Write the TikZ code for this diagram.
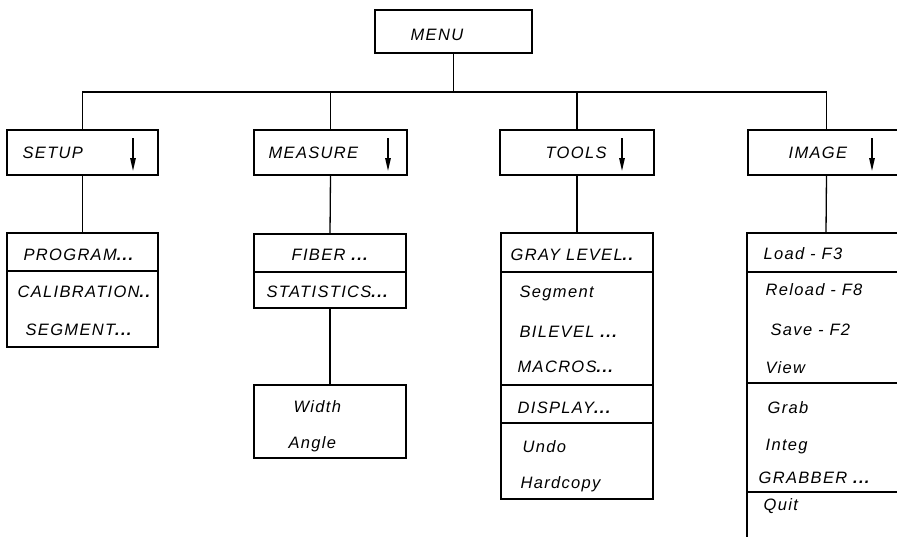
\documentclass[tikz,border=0pt]{standalone}
\usepackage{fontspec}
\newfontfamily\lab{Liberation Sans}[LetterSpace=8]
\usetikzlibrary{arrows.meta}
\newcommand{\dts}[1]{{\bfseries #1}}
\tikzset{
  frame/.style n args={2}{draw, rectangle, minimum width=#1, minimum height=#2, inner sep=0pt, outer sep=0pt, anchor=north west},
  txt/.style={anchor=base west, inner sep=0pt, font=\lab\itshape\fontsize{16.5}{19}\selectfont},
  darrow/.style={-{Triangle[length=13pt,width=5.5pt]}, line width=1.4pt},
}
\begin{document}
\begin{tikzpicture}[x=1pt,y=-1pt,line width=1.3pt]
\useasboundingbox (0,0) rectangle (897,536);
\clip (0,0) rectangle (897,536);
% top
\node[frame={157pt}{43pt}] (menu) at (375,10) {};
\node[txt] (tmenu) at (410,40) {MENU};
% second level
\node[frame={151pt}{45pt}] (setup) at (7,130) {};
\node[frame={153pt}{45pt}] (measure) at (254,130) {};
\node[frame={154pt}{45pt}] (tools) at (500,130) {};
\node[frame={157pt}{45pt}] (image) at (748,130) {};
\node[txt] (tsetup) at (22,158) {SETUP};
\node[txt] (tmeasure) at (268,158) {MEASURE};
\node[txt] (ttools) at (545,158) {TOOLS};
\node[txt] (timage) at (788,158) {IMAGE};
\coordinate (a1s) at (133,138); \coordinate (a1e) at (133,171);
\coordinate (a2s) at (388,138); \coordinate (a2e) at (388,171);
\coordinate (a3s) at (622,138); \coordinate (a3e) at (622,171);
\coordinate (a4s) at (872,138); \coordinate (a4e) at (872,171);
\draw[darrow] (a1s) -- (a1e);
\draw[darrow] (a2s) -- (a2e);
\draw[darrow] (a3s) -- (a3e);
\draw[darrow] (a4s) -- (a4e);
% bus
\coordinate (bus) at (453,92);
\draw (menu.south) -- (menu.south |- bus);
\draw (setup.north) |- (bus) -| (image.north);
\draw (measure.north) -- (measure.north |- bus);
\draw (tools.north) -- (tools.north |- bus);
% submenus
\node[frame={151pt}{114pt}] (setsub) at (7,233) {};
\node[frame={152pt}{74pt}] (meassub) at (254,234) {};
\node[frame={152pt}{73pt}] (wabox) at (254,385) {};
\node[frame={152pt}{266pt}] (toolsub) at (501,233) {};
\node[frame={158pt}{330pt}] (imgsub) at (747,233) {};
\draw (setup.south) -- (setsub.north);
\draw (measure.south) -- (meassub.north);
\draw (meassub.south) -- (wabox.north);
\draw (tools.south) -- (toolsub.north);
\draw (image.south) -- (imgsub.north);
% dividers
\draw (setsub.west |- 0,271) -- (setsub.east |- 0,271);
\draw (meassub.west |- 0,272) -- (meassub.east |- 0,272);
\draw (toolsub.west |- 0,272) -- (toolsub.east |- 0,272);
\draw (toolsub.west |- 0,385) -- (toolsub.east |- 0,385);
\draw (toolsub.west |- 0,423) -- (toolsub.east |- 0,423);
\draw (imgsub.west |- 0,272) -- (imgsub.east |- 0,272);
\draw (imgsub.west |- 0,383) -- (imgsub.east |- 0,383);
\draw (imgsub.west |- 0,492) -- (imgsub.east |- 0,492);
% texts setup
\node[txt] (s1) at (23,260) {PROGRAM\dts{...}};
\node[txt] (s2) at (17,297) {CALIBRATION\dts{..}};
\node[txt] (s3) at (25,335) {SEGMENT\dts{...}};
% measure
\node[txt] (m1) at (291,260) {FIBER \dts{...}};
\node[txt] (m2) at (266,297) {STATISTICS\dts{...}};
\node[txt] (m3) at (293,412) {Width};
\node[txt] (m4) at (288,448) {Angle};
% tools
\node[txt] (o1) at (510,260) {GRAY LEVEL\dts{..}};
\node[txt] (o2) at (519,297) {Segment};
\node[txt] (o3) at (519,337) {BILEVEL \dts{...}};
\node[txt] (o4) at (517,372) {MACROS\dts{...}};
\node[txt] (o5) at (517,413) {DISPLAY\dts{...}};
\node[txt] (o6) at (522,452) {Undo};
\node[txt] (o7) at (520,488) {Hardcopy};
% image
\node[txt] (i1) at (763,259) {Load - F3};
\node[txt] (i2) at (765,295) {Reload - F8};
\node[txt] (i3) at (770,335) {Save - F2};
\node[txt] (i4) at (765,373) {View};
\node[txt] (i5) at (767,413) {Grab};
\node[txt] (i6) at (765,450) {Integ};
\node[txt] (i7) at (758,483) {GRABBER \dts{...}};
\node[txt] (i8) at (763,510) {Quit};
\end{tikzpicture}
\end{document}
